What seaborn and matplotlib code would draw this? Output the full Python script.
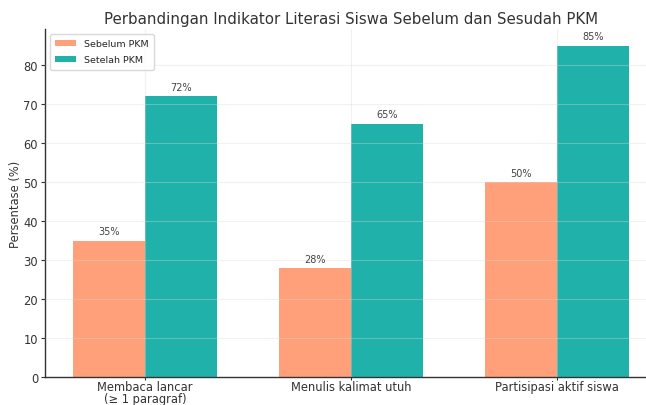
import matplotlib
matplotlib.use("Agg")
import matplotlib.pyplot as plt
import seaborn as sns
import pandas as pd

categories = ["Membaca lancar\n(≥ 1 paragraf)", "Menulis kalimat utuh", "Partisipasi aktif siswa"]
series_names = ["Sebelum PKM", "Setelah PKM"]
sebelum = [35, 28, 50]
setelah = [72, 65, 85]
colors = ["#FFA07A", "#20B2AA"]

df = pd.DataFrame({
    "Indikator": categories * 2,
    "Kelompok": [series_names[0]] * 3 + [series_names[1]] * 3,
    "Nilai": sebelum + setelah,
})

sns.set_style("whitegrid")
plt.rcParams["font.family"] = ["DejaVu Sans"]

fig = plt.figure(figsize=(6.46, 4.06), dpi=100)
ax = fig.add_axes([45 / 646, 1 - 378 / 406, (657 - 45) / 646, (378 - 30) / 406])

sns.barplot(data=df, x="Indikator", y="Nilai", hue="Kelompok", palette=colors,
            width=0.7, ax=ax, saturation=1, edgecolor="none", linewidth=0)

for cont in ax.containers:
    ax.bar_label(cont, labels=[f"{int(v)}%" for v in cont.datavalues], padding=3,
                 fontsize=7, color="#444444")

ax.set_xlim(-0.485, 2.485)
ax.set_ylim(0, 89.25)
ax.set_yticks(range(0, 81, 10))
ax.set_xlabel("")
ax.set_ylabel("Persentase (%)", fontsize=8.3, color="#333333", labelpad=1)
ax.set_title("Perbandingan Indikator Literasi Siswa Sebelum dan Sesudah PKM",
             fontsize=10.8, color="#333333", pad=4)
ax.tick_params(axis="y", labelsize=8.3, length=3, color="#333333", labelcolor="#333333",
               left=True, pad=2)
ax.tick_params(axis="x", labelsize=8.3, length=2, color="#333333", labelcolor="#333333",
               bottom=True, pad=0.5)
for lab in ax.get_xticklabels():
    lab.set_linespacing(0.9)
ax.grid(True, linestyle="-", color="#d8d8d8", linewidth=0.8, alpha=0.35)
ax.set_axisbelow(False)
for s in ["top", "right"]:
    ax.spines[s].set_visible(False)
for s in ["left", "bottom"]:
    ax.spines[s].set_color("#333333")
    ax.spines[s].set_linewidth(1.0)

leg = ax.legend(loc="upper left", fontsize=6.8, frameon=True, title=None,
                handlelength=2.2, borderaxespad=0.5, labelspacing=0.75, borderpad=0.6)
leg.get_frame().set_edgecolor("#d0d0d0")

fig.savefig("out.png", dpi=100)
